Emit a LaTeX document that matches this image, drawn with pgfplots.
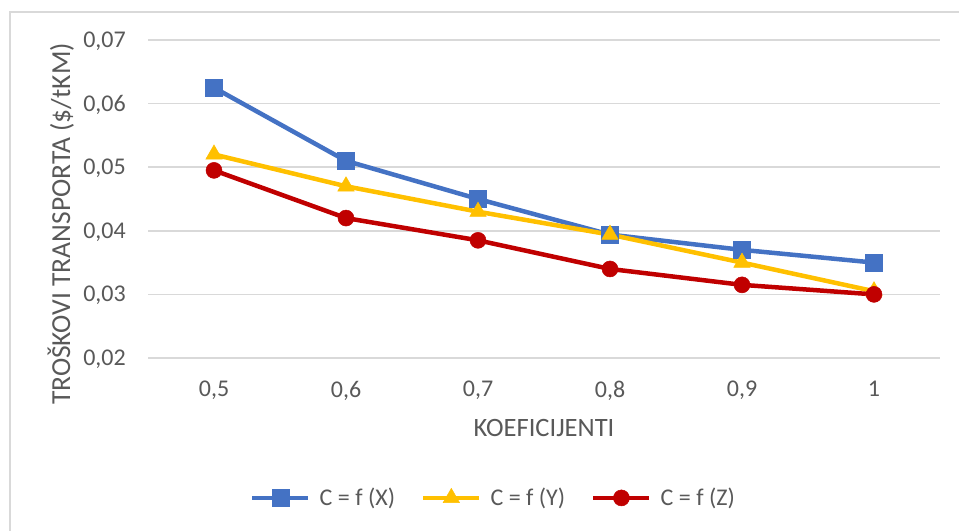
\documentclass[border=0pt]{standalone}
\usepackage{pgfplots}
\pgfplotsset{compat=1.18}
\usepackage{fontspec}
\setmainfont{Carlito}
\definecolor{cblue}{HTML}{4472C4}
\definecolor{cyellow}{HTML}{FFC000}
\definecolor{cred}{HTML}{C00000}
\definecolor{cgrid}{HTML}{D9D9D9}
\definecolor{ctext}{HTML}{595959}
\begin{document}
\begin{tikzpicture}[x=1bp,y=1bp]
\useasboundingbox (0,0) rectangle (959,531);
\fill[white] (0,0) rectangle (959,531);
\draw[cgrid, line width=1.5bp] (10,-10) -- (10,519) -- (975,519);
\begin{axis}[
  at={(148bp,173bp)}, anchor=south west,
  scale only axis, width=792bp, height=318bp,
  xmin=0.45, xmax=1.05, ymin=0.02, ymax=0.07,
  scaled y ticks=false, scaled x ticks=false,
  xtick={0.5,0.6,0.7,0.8,0.9,1},
  xticklabels={{0,5},{0,6},{0,7},{0,8},{0,9},{1}},
  ytick={0.02,0.03,0.04,0.05,0.06,0.07},
  yticklabels={{0,02},{0,03},{0,04},{0,05},{0,06},{0,07}},
  axis line style={draw=none},
  major tick length=0pt,
  tick style={draw=none},
  ymajorgrids,
  major grid style={cgrid, line width=1.5bp},
  ticklabel style={font=\fontsize{24bp}{28bp}\selectfont, text=ctext, inner sep=0pt},
  xticklabel style={anchor=north, yshift=-23bp},
  yticklabel style={anchor=east, xshift=-22bp, yshift=-1bp},
  clip=false,
  legend columns=3,
  legend style={draw=none, fill=none, at={(axis description cs:0.435,-0.44)}, anchor=center,
    font=\fontsize{24bp}{28bp}\selectfont, text=ctext,
    nodes={inner sep=0pt},
    column sep=9bp,
    /tikz/every even column/.append style={column sep=26bp}},
  legend cell align=left,
  legend image code/.code={\draw[#1, mark repeat=2, mark phase=2] plot coordinates {(0bp,0bp) (28bp,0bp) (56bp,0bp)};},
]
\addplot[cblue, line width=4.5bp, mark=square*, mark size=8.5bp, mark options={fill=cblue, line width=0.5bp}]
  coordinates {(0.5,0.0625) (0.6,0.051) (0.7,0.045) (0.8,0.0394) (0.9,0.037) (1,0.035)};
\addlegendentry{C = f (X)}
\addplot[cyellow, line width=4.5bp, mark=triangle*, mark size=9.5bp, mark options={fill=cyellow, line width=0.5bp}]
  coordinates {(0.5,0.052) (0.6,0.047) (0.7,0.043) (0.8,0.0394) (0.9,0.035) (1,0.0305)};
\addlegendentry{C = f (Y)}
\addplot[cred, line width=4.5bp, mark=*, mark size=8bp, mark options={fill=cred, line width=0.5bp}]
  coordinates {(0.5,0.0495) (0.6,0.042) (0.7,0.0385) (0.8,0.034) (0.9,0.0315) (1,0.030)};
\addlegendentry{C = f (Z)}
\end{axis}
\node[rotate=90, anchor=base, text=ctext, font=\fontsize{27.5bp}{31bp}\selectfont, inner sep=0pt] at (70,307) {TROŠKOVI TRANSPORTA (\$/tKM)};
\node[anchor=base, text=ctext, font=\fontsize{26.5bp}{30bp}\selectfont, inner sep=0pt] at (544,94) {KOEFICIJENTI};
\end{tikzpicture}
\end{document}
